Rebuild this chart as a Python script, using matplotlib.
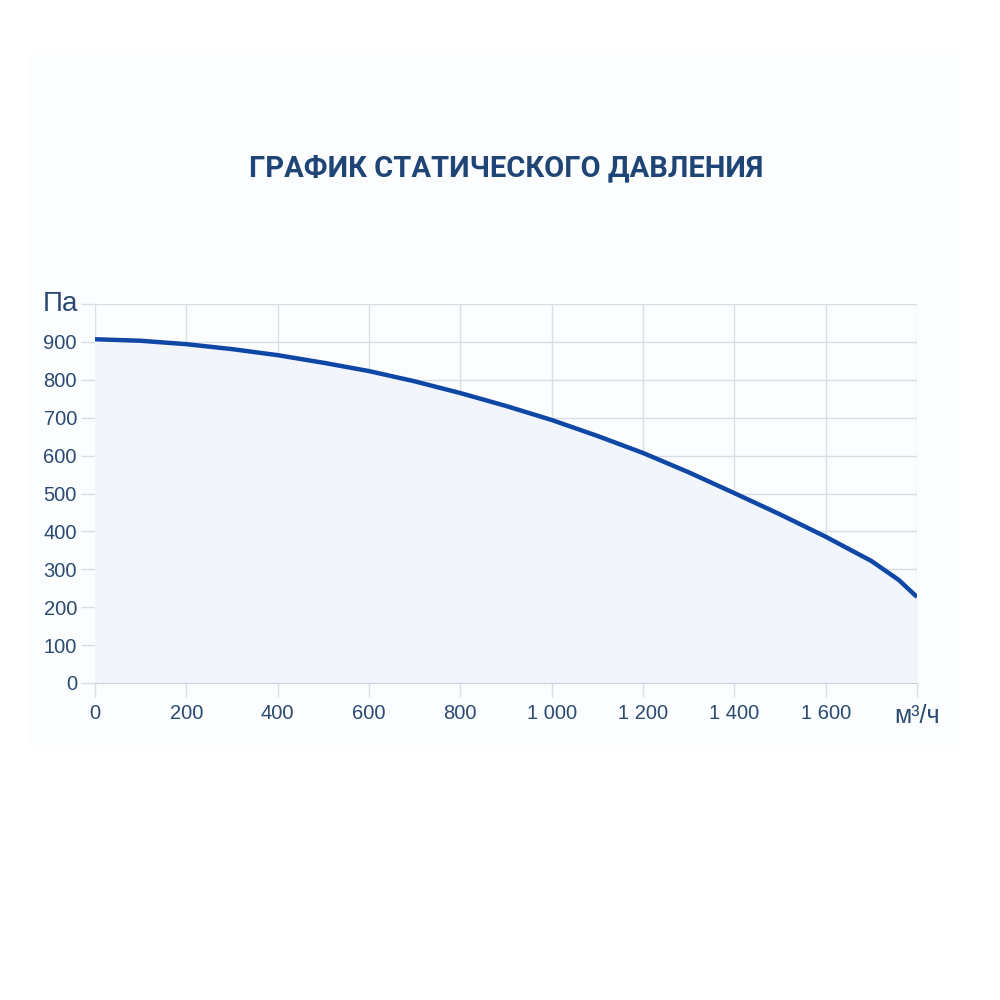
import matplotlib
matplotlib.use("Agg")
import matplotlib.pyplot as plt
from matplotlib.ticker import FuncFormatter

# airflow (m3/h) vs static pressure (Pa)
flow = [0, 100, 200, 300, 400, 500, 600, 700, 800, 900, 1000, 1100, 1200, 1300,
        1400, 1500, 1600, 1700, 1760, 1800]
pressure = [907, 903, 894, 881, 865, 845, 823, 796, 765, 731, 694, 652, 607, 556,
            501, 445, 386, 322, 272, 227]

x_ticks = [0, 200, 400, 600, 800, 1000, 1200, 1400, 1600, 1800]
y_ticks = [0, 100, 200, 300, 400, 500, 600, 700, 800, 900]

line_color = "#0f47a6"
text_color = "#2b4a72"
grid_color = "#d9dee6"

fig = plt.figure(figsize=(10, 10), dpi=100)
fig.patch.set_facecolor("white")

# faint panel behind the chart
panel = plt.Rectangle((0.03, 0.25), 0.93, 0.70, transform=fig.transFigure,
                      facecolor="#fcfdfe", edgecolor="none", zorder=-10)
fig.add_artist(panel)

ax = fig.add_axes([0.095, 0.317, 0.822, 0.379])
ax.set_facecolor("none")

ax.fill_between(flow, pressure, 0, color="#f2f5fb", zorder=1)
ax.plot(flow, pressure, color=line_color, linewidth=3.2, solid_capstyle="butt",
        solid_joinstyle="round", zorder=3)

ax.set_xlim(0, 1800)
ax.set_ylim(0, 1000)
ax.set_xticks(x_ticks)
ax.set_yticks(y_ticks + [1000])
ax.set_yticklabels([str(v) for v in y_ticks] + [""])
ax.xaxis.set_major_formatter(FuncFormatter(lambda v, p: "" if v == 1800 else f"{int(v):,}".replace(",", " ")))

ax.grid(True, color=grid_color, linewidth=1)
ax.set_axisbelow(True)
for s in ax.spines.values():
    s.set_visible(False)
ax.spines["bottom"].set_visible(True)
ax.spines["bottom"].set_color("#c9ced8")

ax.tick_params(axis="both", colors=grid_color, length=10, width=1,
               labelsize=14.5, labelcolor=text_color, pad=5)
ax.tick_params(axis="y", pad=3)
for lab in ax.get_xticklabels() + ax.get_yticklabels():
    lab.set_family("Liberation Sans")

ax.text(-0.02, 1.0, "Па", transform=ax.transAxes, ha="right", va="center",
        fontsize=20, color=text_color, family="Liberation Sans")
ax.text(1.0, -0.088, "м³/ч", transform=ax.transAxes, ha="center", va="center",
        fontsize=18, color=text_color, family="Liberation Sans")

fig.text(0.506, 0.832, "ГРАФИК СТАТИЧЕСКОГО ДАВЛЕНИЯ", ha="center", va="center",
         fontsize=21, fontweight="bold", color="#1f4577", family="Roboto")

fig.savefig("out.png", dpi=100)
